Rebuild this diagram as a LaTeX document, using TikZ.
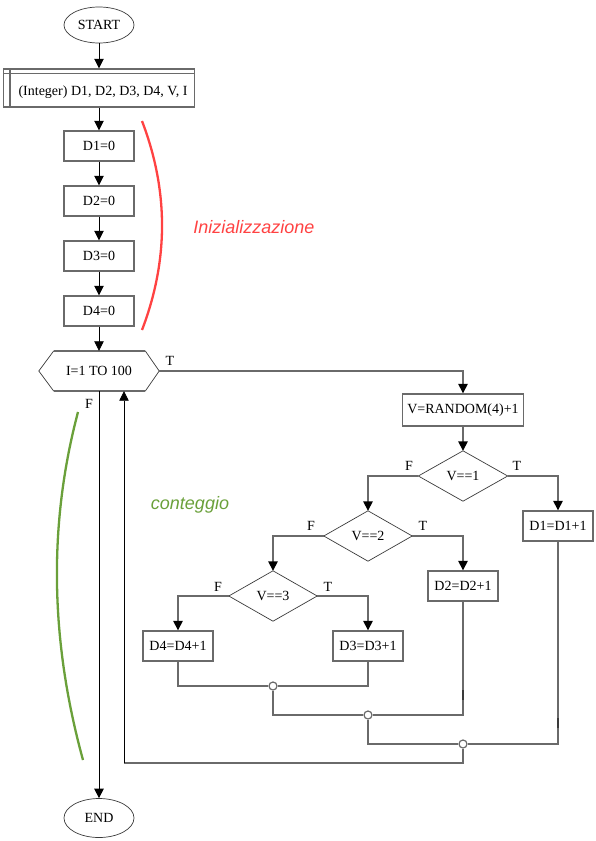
\documentclass[tikz,border=0pt]{standalone}
\usepackage{fontspec}
\setmainfont{Liberation Serif}
\newfontfamily\helv{Liberation Sans}
\usetikzlibrary{arrows.meta,calc,shapes.geometric}
\definecolor{linegray}{HTML}{6A6A6A}
\definecolor{darkline}{HTML}{3A3A3A}
\definecolor{annred}{HTML}{FF4242}
\definecolor{anngreen}{HTML}{6AA03A}
\begin{document}
\begin{tikzpicture}[x=1pt,y=-1pt,
  every node/.style={font=\fontsize{14}{16}\selectfont, inner sep=0pt},
  box/.style={draw=linegray, line width=1.4pt, minimum width=70pt, minimum height=30pt, fill=white},
  term/.style={ellipse, draw=darkline, line width=0.7pt, minimum width=70pt, minimum height=36pt},
  blk/.style={draw=black, line width=0.8pt},
  gry/.style={draw=linegray, line width=1.5pt},
  thn/.style={draw=darkline, line width=0.7pt},
  arr/.style={-{Triangle[width=9.5pt,length=9.5pt,black]}},
  merge/.style={circle, draw=linegray, line width=1.2pt, fill=white, minimum size=8pt},
  ann/.style={font=\helv\itshape\fontsize{18}{22}\selectfont}
]
\useasboundingbox (0,0) rectangle (595,841);

% terminals
\node[term] (start) at (99,25) {START};
\node[term, minimum height=39pt] (end) at (99,818) {END};

% declaration
\node[box, minimum width=191pt, minimum height=38pt] (decl) at (99,88) {};
\draw[gry] ([xshift=7pt]decl.north west) -- ([xshift=7pt]decl.south west);
\draw[gry] ([yshift=-5pt]decl.north west) -- ([yshift=-5pt]decl.north east);
\node (decltext) at (103,92) {(Integer) D1, D2, D3, D4, V, I};

% initialisation
\node[box] (i1) at (99,146) {D1=0};
\node[box] (i2) at (99,201) {D2=0};
\node[box] (i3) at (99,256) {D3=0};
\node[box] (i4) at (99,311) {D4=0};

% loop hexagon
\node[minimum width=120pt, minimum height=40pt] (hex) at (99,371) {I=1 TO 100};
\draw[gry] ([xshift=15pt]hex.north west) -- ([xshift=-14pt]hex.north east);
\draw[gry] ([xshift=15pt]hex.south west) -- ([xshift=-14pt]hex.south east);
\draw[thn] ([xshift=15pt]hex.north west) -- (hex.west) -- ([xshift=15pt]hex.south west);
\draw[thn] ([xshift=-14pt]hex.north east) -- (hex.east) -- ([xshift=-14pt]hex.south east);
\node (hexT) at (170,361) {T};
\node (hexF) at (89,404) {F};

% body
\node[box, minimum width=121pt, minimum height=32pt] (rand) at (463,410) {V=RANDOM(4)+1};
\node[minimum width=89pt, minimum height=50pt] (d1) at (463,476) {V==1};
\node[minimum width=88pt, minimum height=50pt] (d2) at (368,536) {V==2};
\node[minimum width=88pt, minimum height=50pt] (d3) at (273,596) {V==3};
\foreach \d in {d1,d2,d3}{
  \draw[thn] (\d.north) -- (\d.east) -- (\d.south) -- (\d.west) -- cycle;
}
\node (d1F) at (409,466) {F};
\node (d1T) at (517,466) {T};
\node (d2F) at (311,526) {F};
\node (d2T) at (423,526) {T};
\node (d3F) at (218,587) {F};
\node (d3T) at (328,587) {T};

\node[box] (inc1) at (558,526) {D1=D1+1};
\node[box] (inc2) at (463,586) {D2=D2+1};
\node[box] (inc3) at (368,646) {D3=D3+1};
\node[box] (inc4) at (178,646) {D4=D4+1};

\node[merge] (m1) at (273,686) {};
\node[merge] (m2) at (368,715) {};
\node[merge] (m3) at (463,744) {};
\coordinate (lb) at (463,763);
\coordinate (lc) at (124,763);

% main column connectors
\draw[blk,arr] (start.south) -- (decl.north);
\draw[blk,arr] (decl.south) -- (i1.north);
\draw[blk,arr] (i1.south) -- (i2.north);
\draw[blk,arr] (i2.south) -- (i3.north);
\draw[blk,arr] (i3.south) -- (i4.north);
\draw[blk,arr] (i4.south) -- (hex.north);
\draw[blk,arr] (hex.south) -- (end.north);

% branch connectors
\draw[gry,arr] (hex.east) -| (rand.north);
\draw[gry,arr] (rand.south) -- (d1.north);
\draw[gry,arr] (d1.west) -| (d2.north);
\draw[gry,arr] (d1.east) -| (inc1.north);
\draw[gry,arr] (d2.west) -| (d3.north);
\draw[gry,arr] (d2.east) -| (inc2.north);
\draw[gry,arr] (d3.west) -| (inc4.north);
\draw[gry,arr] (d3.east) -| (inc3.north);

% merges
\draw[gry] (inc4.south) |- (m1.west);
\draw[gry] (inc3.south) |- (m1.east);
\draw[gry] (m1.south) |- (m2.west);
\draw[gry] (inc2.south) |- (m2.east);
\draw[gry] (m2.south) |- (m3.west);
\draw[gry] (inc1.south) |- (m3.east);
\draw[gry] (m3.south) -- (lb) -- (lc);
\draw[blk,arr] (lc) -- (lc |- hex.south);
\draw[draw=darkline, line width=1.6pt] (463,690) -- (463,700);
\draw[draw=darkline, line width=1.6pt] (558,718) -- (558,728);

% annotations
\draw[draw=annred, line width=2.3pt] (142,121) .. controls (168.7,190.7) and (168.7,260.3) .. (142,330);
\node[ann, text=annred] (initlbl) at (254,227) {Inizializzazione};
\draw[draw=anngreen, line width=2.3pt] (78,412) .. controls (48.3,524) and (50,640) .. (83,760);
\node[ann, text=anngreen] (countlbl) at (190,505) {conteggio};
\end{tikzpicture}
\end{document}
